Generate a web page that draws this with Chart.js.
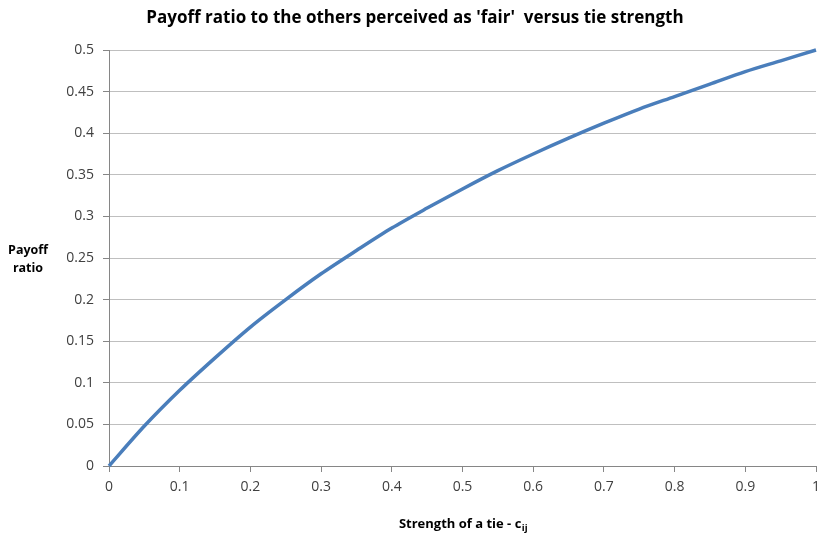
<!DOCTYPE html>
<html>
<head>
<meta charset="utf-8">
<script src="https://cdn.jsdelivr.net/npm/chart.js@4/dist/chart.umd.min.js"></script>
<style>
  html, body { margin: 0; padding: 0; background: #fff; }
  #wrap { width: 819px; height: 534px; position: relative; }
</style>
</head>
<body>
<div id="wrap"><canvas id="c"></canvas></div>
<script>
// Tie strength (x) and the payoff ratio perceived as fair (y)
const tieStrength = [0, 0.05, 0.1, 0.15, 0.2, 0.25, 0.3, 0.35, 0.4, 0.45, 0.5,
                     0.55, 0.6, 0.65, 0.7, 0.75, 0.8, 0.85, 0.9, 0.95, 1];
const payoffRatio = [0, 0.048, 0.091, 0.130, 0.167, 0.200, 0.231, 0.259, 0.286, 0.310, 0.333,
                     0.355, 0.375, 0.394, 0.412, 0.429, 0.444, 0.459, 0.474, 0.487, 0.5];

const chartTitle = "Payoff ratio to the others perceived as 'fair'  versus tie strength";
const yTitleLines = ['Payoff', 'ratio'];
const xTitleMain = 'Strength of a tie - c';
const xTitleSub = 'ij';

const FONT = '"Open Sans", "Liberation Sans", sans-serif';

const points = tieStrength.map((x, i) => ({ x: x, y: payoffRatio[i] }));

const fmt = v => String(Number(v.toFixed(2)));

// Draws the title and both axis titles as text on the canvas
const labelsPlugin = {
  id: 'labels',
  afterDraw(chart) {
    const ctx = chart.ctx;
    ctx.save();
    ctx.fillStyle = '#000';
    ctx.textBaseline = 'middle';

    ctx.font = 'bold 17px ' + FONT;
    ctx.textAlign = 'center';
    ctx.fillText(chartTitle, 415, 18);

    ctx.font = 'bold 12.5px ' + FONT;
    ctx.fillText(yTitleLines[0], 28, 250);
    ctx.fillText(yTitleLines[1], 28, 268);

    ctx.font = 'bold 13px ' + FONT;
    const mainW = ctx.measureText(xTitleMain).width;
    ctx.font = 'bold 9.5px ' + FONT;
    const subW = ctx.measureText(xTitleSub).width;
    const cx = 463;
    const start = cx - (mainW + subW) / 2;
    ctx.textAlign = 'left';
    ctx.font = 'bold 13px ' + FONT;
    ctx.fillText(xTitleMain, start, 524);
    ctx.font = 'bold 9.5px ' + FONT;
    ctx.fillText(xTitleSub, start + mainW + 0.5, 528);
    ctx.restore();
  }
};

new Chart(document.getElementById('c'), {
  type: 'line',
  data: {
    datasets: [{
      data: points,
      borderColor: '#4a7ebb',
      borderWidth: 3.5,
      pointRadius: 0,
      tension: 0.3,
      fill: false,
      clip: 4
    }]
  },
  options: {
    responsive: true,
    maintainAspectRatio: false,
    animation: false,
    layout: { padding: { top: 50, right: 3, left: 0, bottom: 0 } },
    plugins: {
      legend: { display: false },
      title: { display: false },
      tooltip: { enabled: false }
    },
    scales: {
      x: {
        type: 'linear',
        min: 0, max: 1,
        ticks: {
          stepSize: 0.1,
          color: '#404040',
          font: { family: FONT, size: 14 },
          padding: 7,
          maxRotation: 0,
          callback: v => fmt(v)
        },
        grid: {
          drawOnChartArea: false,
          drawTicks: true,
          tickLength: 6,
          color: '#868686'
        },
        border: { color: '#868686', width: 1 },
        afterFit(scale) {
          scale.height = 68;
          // let the last label run off the canvas edge instead of shrinking the plot
          scale.paddingRight = 0;
          scale.paddingLeft = 0;
        }
      },
      y: {
        min: 0, max: 0.5,
        ticks: {
          stepSize: 0.05,
          color: '#404040',
          font: { family: FONT, size: 14 },
          padding: 9,
          callback: v => fmt(v)
        },
        grid: {
          color: '#bfbfbf',
          tickColor: '#868686',
          tickLength: 6
        },
        border: { color: '#868686', width: 1 },
        afterFit(scale) { scale.width = 109; }
      }
    }
  },
  plugins: [labelsPlugin]
});
</script>
</body>
</html>
